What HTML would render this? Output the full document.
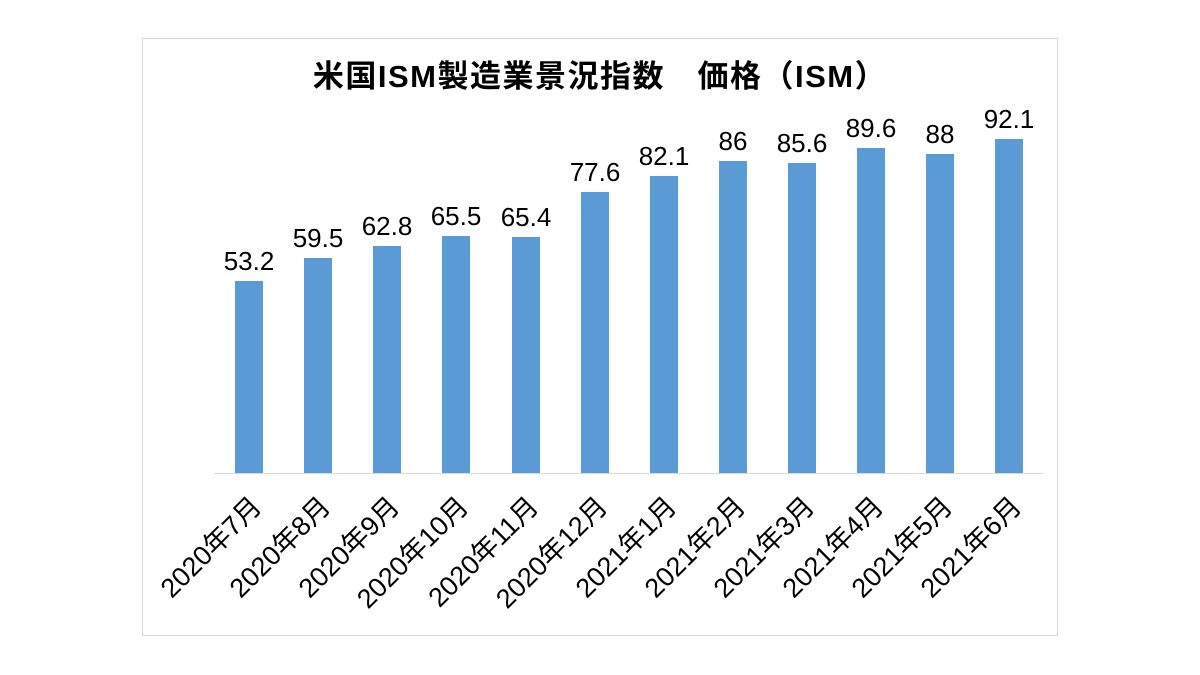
<!DOCTYPE html>
<html><head><meta charset="utf-8"><style>body{margin:0;background:#fff}svg{display:block}</style></head><body>
<svg width="1200" height="675" xmlns="http://www.w3.org/2000/svg" font-family="'Liberation Sans','Noto Sans CJK JP',sans-serif">
<rect x="142.5" y="38.5" width="915" height="597" fill="#fff" stroke="#d9d9d9"/>
<text x="600" y="87" text-anchor="middle" font-size="31" font-weight="bold" letter-spacing="1.5" fill="#000">米国ISM製造業景況指数　価格（ISM）</text>
<line x1="214" y1="473.5" x2="1043" y2="473.5" stroke="#d9d9d9"/>
<g fill="#5b9bd5">
<rect x="235" y="281" width="28" height="192"/>
<rect x="304" y="258" width="28" height="215"/>
<rect x="373" y="246" width="28" height="227"/>
<rect x="442" y="236" width="28" height="237"/>
<rect x="512" y="237" width="28" height="236"/>
<rect x="581" y="192" width="28" height="281"/>
<rect x="650" y="176" width="28" height="297"/>
<rect x="719" y="161" width="28" height="312"/>
<rect x="788" y="163" width="28" height="310"/>
<rect x="857" y="148" width="28" height="325"/>
<rect x="926" y="154" width="28" height="319"/>
<rect x="995" y="139" width="28" height="334"/>
</g>
<g font-size="26" text-anchor="middle" fill="#000">
<text x="249" y="270">53.2</text><text x="318" y="247">59.5</text><text x="387" y="235">62.8</text>
<text x="456" y="225">65.5</text><text x="526" y="226">65.4</text><text x="595" y="181">77.6</text>
<text x="664" y="165">82.1</text><text x="733" y="150">86</text><text x="802" y="152">85.6</text>
<text x="871" y="137">89.6</text><text x="940" y="143">88</text><text x="1009" y="128">92.1</text>
</g>
<g font-size="27" text-anchor="end" fill="#000">
<text transform="translate(263,508) rotate(-45)">2020年7月</text>
<text transform="translate(332,508) rotate(-45)">2020年8月</text>
<text transform="translate(401,508) rotate(-45)">2020年9月</text>
<text transform="translate(470,508) rotate(-45)">2020年10月</text>
<text transform="translate(540,508) rotate(-45)">2020年11月</text>
<text transform="translate(609,508) rotate(-45)">2020年12月</text>
<text transform="translate(678,508) rotate(-45)">2021年1月</text>
<text transform="translate(747,508) rotate(-45)">2021年2月</text>
<text transform="translate(816,508) rotate(-45)">2021年3月</text>
<text transform="translate(885,508) rotate(-45)">2021年4月</text>
<text transform="translate(954,508) rotate(-45)">2021年5月</text>
<text transform="translate(1023,508) rotate(-45)">2021年6月</text>
</g>
</svg>
</body></html>
